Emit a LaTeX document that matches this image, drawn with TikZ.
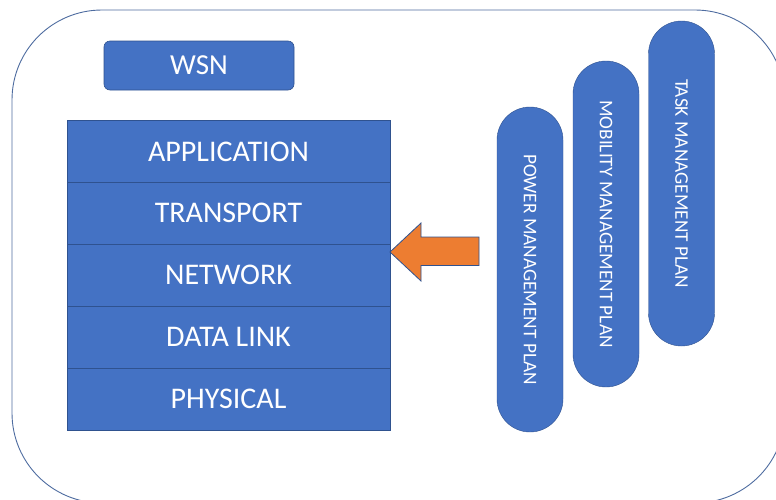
\documentclass[tikz,border=0pt]{standalone}
\usepackage{fontspec}
\setmainfont{Carlito}
\definecolor{boxblue}{HTML}{4472C4}
\definecolor{edgeblue}{HTML}{2F528F}
\definecolor{arroworange}{HTML}{ED7D31}
\begin{document}
\begin{tikzpicture}[x=1pt,y=-1pt,
  layer/.style={draw=edgeblue, line width=0.8pt, fill=boxblue, text=white,
    minimum width=323pt, minimum height=62pt, inner sep=0pt,
    font=\fontsize{30}{30}\selectfont},
  tag/.style={draw=edgeblue, line width=0.6pt, fill=boxblue, text=white,
    rounded corners=6pt, minimum width=190pt, minimum height=49pt, inner sep=0pt,
    font=\fontsize{29}{29}\selectfont},
  pill/.style={draw=edgeblue, line width=0.4pt, fill=boxblue, text=white,
    rotate=-90, rounded corners=33pt, minimum height=66pt, inner sep=0pt,
    font=\fontsize{19.3}{19.3}\selectfont},
  blockarrow/.style={draw=edgeblue, line width=0.8pt, fill=arroworange, line join=miter}]
\useasboundingbox (0,0) rectangle (776,499);
\clip (0,0) rectangle (776,499);
% outer frame
\draw[edgeblue!85, line width=0.9pt, rounded corners=90pt] (12,10) rectangle (785,503);
% title
\node[tag] (wsn) at (199,65.5) {WSN};
% protocol stack
\node[layer] (app)  at (228.5,151.5) {APPLICATION};
\node[layer] (tra)  at (228.5,213)   {TRANSPORT};
\node[layer] (net)  at (228.5,275)   {NETWORK};
\node[layer] (dll)  at (228.5,337)   {DATA LINK};
\node[layer] (phy)  at (228.5,399)   {PHYSICAL};
% management planes
\node[pill, minimum width=325pt] (power)    at (530,269.5) {POWER MANAGEMENT PLAN};
\node[pill, minimum width=326pt] (mobility) at (606,224)   {MOBILITY MANAGEMENT PLAN};
\node[pill, minimum width=325pt] (task)     at (681.5,183.5) {TASK MANAGEMENT PLAN};
% block arrow pointing at the stack
\draw[blockarrow] (479,237) -- (421,237) -- (421,223) -- (390,252)
  -- (421,281) -- (421,265.5) -- (479,265.5) -- cycle;
\end{tikzpicture}
\end{document}
